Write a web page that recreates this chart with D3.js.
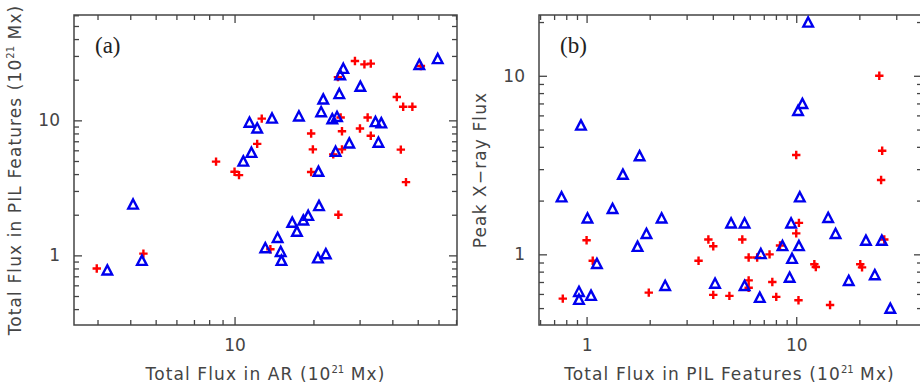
<!DOCTYPE html>
<html>
<head>
<meta charset="utf-8">
<script src="https://cdn.jsdelivr.net/npm/d3@7"></script>
<style>
  body { margin: 0; background: #fff; }
  text { font-family: "DejaVu Sans", sans-serif; fill: #444; }
  .panel-tag { font-family: "Liberation Serif", serif; fill: #222; }
</style>
</head>
<body>
<svg></svg>
<script>
// panel (a): Total flux in AR vs total flux in PIL features
const aTriangles = [
  [4.1, 2.4], [3.27, 0.78], [4.43, 0.92], [10.8, 5.0], [11.6, 5.8], [11.4, 9.7],
  [12.2, 8.8], [13.9, 10.4], [17.6, 10.8], [21.4, 11.6], [21.8, 14.4], [25.1, 15.8],
  [26.0, 24.3], [25.3, 21.8], [30.2, 17.9], [50.7, 26.0], [59.6, 28.7], [23.6, 10.3],
  [24.6, 10.7], [34.5, 9.8], [36.3, 9.6], [27.4, 6.8], [35.4, 6.9], [24.3, 5.9],
  [20.9, 4.2], [13.1, 1.14], [14.6, 1.36], [15.0, 1.07], [15.1, 0.92], [16.6, 1.76],
  [17.3, 1.51], [18.3, 1.83], [19.1, 1.98], [21.0, 2.34], [20.8, 0.96], [22.3, 1.03]
];
const aPluses = [
  [2.98, 0.80], [4.49, 1.03], [8.5, 4.95], [10.0, 4.16], [10.4, 3.93], [12.2, 6.7],
  [12.7, 10.3], [13.7, 1.11], [19.6, 8.0], [19.9, 6.1], [19.6, 4.14], [23.8, 5.6],
  [25.7, 6.1], [25.7, 8.3], [30.1, 8.7], [33.1, 7.7], [32.2, 10.5], [25.4, 10.5],
  [24.8, 20.9], [28.8, 27.5], [31.3, 26.0], [33.1, 26.3], [51.4, 25.3], [41.6, 14.9],
  [44.0, 12.6], [47.7, 12.6], [43.1, 6.07], [45.1, 3.49], [24.9, 2.0]
];

// panel (b): total flux in PIL features vs peak X-ray flux
const bTriangles = [
  [0.94, 5.3], [0.76, 2.1], [1.01, 1.6], [1.33, 1.81], [1.49, 2.81], [1.79, 3.57],
  [2.28, 1.6], [1.93, 1.31], [1.75, 1.11], [1.12, 0.89], [0.92, 0.62], [0.92, 0.56],
  [1.05, 0.59], [2.37, 0.67], [4.1, 0.69], [4.89, 1.5], [5.67, 1.5], [9.45, 1.5],
  [11.4, 20], [10.7, 7.0], [10.2, 6.4], [10.4, 2.1], [14.2, 1.61], [15.4, 1.31],
  [8.6, 1.12], [10.3, 1.12], [6.78, 1.01], [9.55, 0.95], [9.3, 0.745], [17.8, 0.715],
  [23.7, 0.77], [21.5, 1.2], [25.6, 1.2], [5.67, 0.67], [6.7, 0.575], [28.1, 0.50]
];
const bPluses = [
  [1.0, 1.2], [1.07, 0.92], [0.77, 0.565], [1.98, 0.61], [3.42, 0.92], [3.81, 1.21],
  [4.02, 1.11], [4.02, 0.593], [4.8, 0.585], [5.53, 1.21], [5.93, 0.96], [6.51, 0.96],
  [7.46, 1.0], [8.37, 1.12], [10.3, 1.5], [10.0, 1.31], [10.0, 3.6], [24.9, 10.0],
  [25.7, 3.8], [25.4, 2.61], [26.3, 1.21], [12.2, 0.88], [12.4, 0.85], [20.2, 0.88],
  [20.6, 0.845], [5.93, 0.715], [5.93, 0.65], [7.69, 0.70], [8.03, 0.578],
  [10.25, 0.553], [14.5, 0.52]
];

const aXDomain = [2.44, 70.6];
const aYDomain = [0.305, 60.3];
const bXDomain = [0.593, 39.8];
const bYDomain = [0.402, 21.9];
const labelledTicks = [1, 10];

const size = { w: 920, h: 390 };
const svg = d3.select("svg").attr("width", size.w).attr("height", size.h);

const panels = [
  {
    tag: "(a)", left: 74, right: 457, top: 15, bottom: 325,
    xDomain: aXDomain, yDomain: aYDomain,
    tri: aTriangles, plus: aPluses,
    xLabel: "Total Flux in AR ", yLabel: "Total Flux in PIL Features ", units: true
  },
  {
    tag: "(b)", left: 539, right: 922, top: 15, bottom: 325,
    xDomain: bXDomain, yDomain: bYDomain,
    tri: bTriangles, plus: bPluses,
    xLabel: "Total Flux in PIL Features ", yLabel: "Peak X\u2212ray Flux", units: false
  }
];

panels.forEach(drawPanel);

function drawPanel(p) {
  const g = svg.append("g");
  const x = d3.scaleLog().domain(p.xDomain).range([p.left, p.right]);
  const y = d3.scaleLog().domain(p.yDomain).range([p.bottom, p.top]);
  const isMajor = (d) => labelledTicks.some((m) => Math.abs(d - m) < 1e-9);
  const fmt = (d) => (isMajor(d) ? d3.format("d")(d) : "");

  // frame
  g.append("rect")
    .attr("x", p.left).attr("y", p.top)
    .attr("width", p.right - p.left).attr("height", p.bottom - p.top)
    .attr("fill", "none").attr("stroke", "#444").attr("stroke-width", 1.5);

  // ticks on all four sides, pointing inward (IDL style)
  const axes = [
    { ax: d3.axisBottom(x), t: `translate(0,${p.bottom})`, fmt: fmt, len: -1, horiz: true },
    { ax: d3.axisTop(x), t: `translate(0,${p.top})`, fmt: () => "", len: 1, horiz: true },
    { ax: d3.axisLeft(y), t: `translate(${p.left},0)`, fmt: fmt, len: 1, horiz: false },
    { ax: d3.axisRight(y), t: `translate(${p.right},0)`, fmt: () => "", len: -1, horiz: false }
  ];
  axes.forEach((a) => {
    const scale = a.horiz ? x : y;
    const ag = g.append("g")
      .attr("transform", a.t)
      .call(a.ax.tickValues(scale.ticks()).tickFormat(a.fmt).tickSizeOuter(0).tickPadding(8));
    ag.select(".domain").remove();
    ag.selectAll(".tick line")
      .attr("stroke", "#444").attr("stroke-width", 1.3)
      .attr(a.horiz ? "y2" : "x2", (d) => a.len * (isMajor(d) ? 8 : 5));
    ag.selectAll(".tick text")
      .style("font-family", '"DejaVu Sans", sans-serif')
      .style("font-size", "17px")
      .attr("fill", "#444");
  });

  // pluses
  const ps = 4.2;
  g.append("g")
    .attr("stroke", "#ff0000").attr("stroke-width", 2.4)
    .selectAll("path")
    .data(p.plus)
    .join("path")
    .attr("d", (d) => {
      const cx = x(d[0]), cy = y(d[1]);
      return `M${cx - ps},${cy}H${cx + ps}M${cx},${cy - ps}V${cy + ps}`;
    });

  // triangles
  const tw = 4.8, th = 4.6;
  g.append("g")
    .attr("stroke", "#0000ee").attr("stroke-width", 2.4).attr("fill", "none")
    .selectAll("path")
    .data(p.tri)
    .join("path")
    .attr("d", (d) => {
      const cx = x(d[0]), cy = y(d[1]);
      return `M${cx},${cy - th}L${cx + tw},${cy + th}L${cx - tw},${cy + th}Z`;
    });

  // panel tag
  g.append("text").attr("class", "panel-tag")
    .attr("x", p.left + 21).attr("y", 53)
    .style("font-size", "23px")
    .text(p.tag);

  // axis titles
  const xt = g.append("text")
    .attr("x", (p.left + p.right) / 2 - (p.right > 900 ? 1 : 0))
    .attr("y", 380)
    .attr("text-anchor", "middle")
    .style("font-size", "17px")
    .style("letter-spacing", "1.1px");
  addTitle(xt, p.xLabel, true);

  const yt = g.append("text")
    .attr("transform", `translate(${p.left - 53},${(p.top + p.bottom) / 2}) rotate(-90)`)
    .attr("text-anchor", "middle")
    .style("font-size", "17px")
    .style("letter-spacing", "1.1px");
  addTitle(yt, p.yLabel, p.units);
}

function addTitle(sel, label, units) {
  sel.append("tspan").text(label);
  if (!units) return;
  sel.append("tspan").text("(10");
  sel.append("tspan").attr("dy", -7).style("font-size", "10px").style("letter-spacing", "0px").text("21");
  sel.append("tspan").attr("dy", 7).text(" Mx)");
}
</script>
</body>
</html>
